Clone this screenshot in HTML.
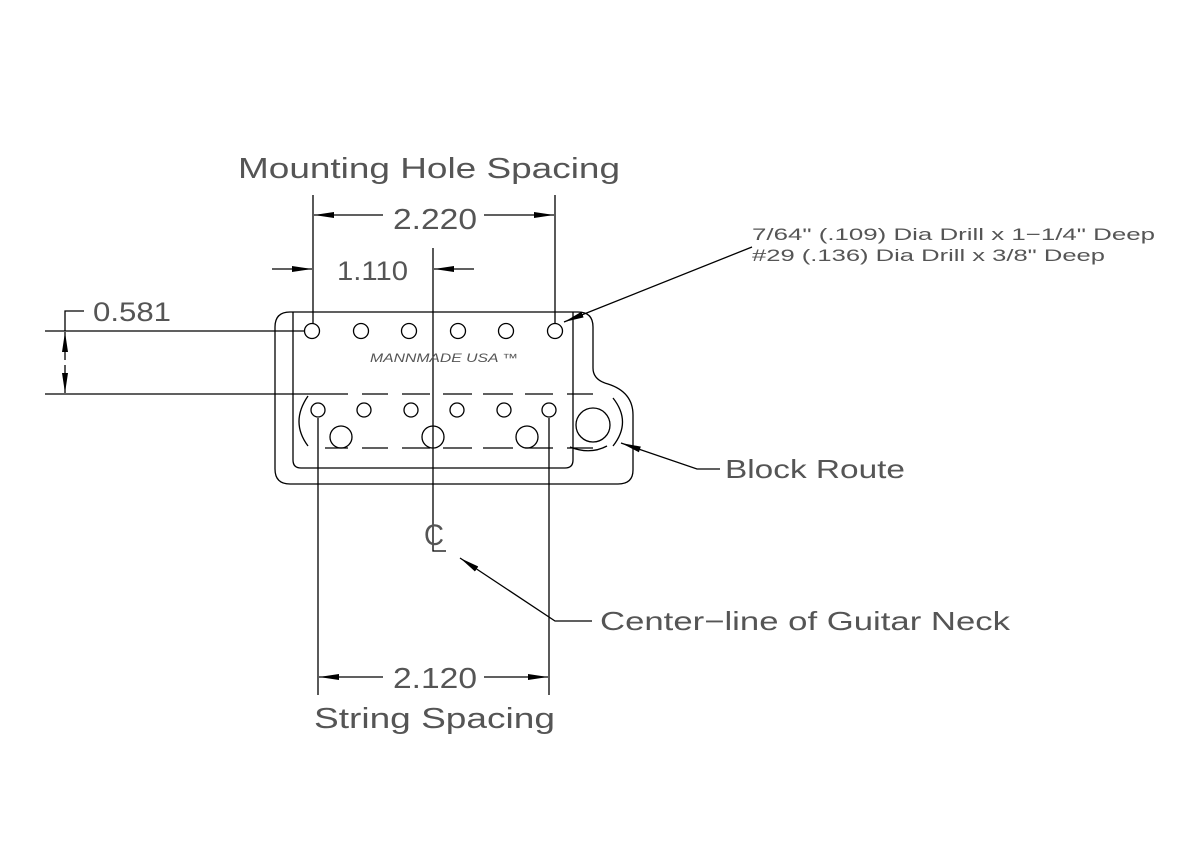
<!DOCTYPE html>
<html><head><style>body{margin:0;background:#fff}svg{display:block}text{font-family:"Liberation Sans",sans-serif;fill:#555}</style></head>
<body>
<svg width="1182" height="856" viewBox="0 0 1182 856" xmlns="http://www.w3.org/2000/svg">
<defs>
<marker id="a" viewBox="0 0 20 8" refX="20" refY="4" markerWidth="20" markerHeight="8" markerUnits="userSpaceOnUse" orient="auto"><path d="M0,1 L20,4 L0,7 Z" fill="#000"/></marker>
</defs>
<g stroke="#000" stroke-width="1.3" fill="none">
<path d="M290,312 H578 Q593,312 593,327 V368 Q593,380 608,384 Q633,392 633,415 V470 Q633,484 618,484 H290 Q275,484 275,469 V327 Q275,312 290,312 Z"/>
<path d="M293,312 V460 Q293,468 301,468 H565 Q573,468 573,460 V312"/>
<g>
<circle cx="312" cy="331" r="7.5"/><circle cx="361" cy="331" r="7.5"/><circle cx="409" cy="331" r="7.5"/><circle cx="458" cy="331" r="7.5"/><circle cx="506" cy="331" r="7.5"/><circle cx="555" cy="331" r="7.5"/>
<circle cx="318" cy="410" r="7"/><circle cx="364" cy="410" r="7"/><circle cx="411" cy="410" r="7"/><circle cx="457" cy="410" r="7"/><circle cx="504" cy="410" r="7"/><circle cx="549" cy="410" r="7"/>
<circle cx="341" cy="437" r="11"/><circle cx="433" cy="437" r="11"/><circle cx="527" cy="437" r="11"/>
<circle cx="593" cy="425" r="17"/>
</g>
<path d="M45,394 H348 M362,394 H388 M402,394 H430 M443,394 H472 M483,394 H513 M525,394 H553 M567,394 H593"/>
<path d="M325,448 H348 M362,448 H388 M402,448 H430 M443,448 H472 M483,448 H513 M525,448 H553 M567,448 H593"/>
<path d="M308,396 Q290,422 308,446"/>
<path d="M613,398 Q632,422 613,446" />
<path d="M570,447 Q590,455 607,446"/>
<path d="M313,195 V324 M555,195 V324"/>
<path d="M383,215 H314" marker-end="url(#a)"/>
<path d="M484,215 H554" marker-end="url(#a)"/>
<path d="M272,269 H312" marker-end="url(#a)"/>
<path d="M474,269 H434" marker-end="url(#a)"/>
<path d="M433,248 V551 H446"/>
<path d="M45,331 H304"/>
<path d="M84,311 H65 V331"/>
<path d="M65,360 V332" marker-end="url(#a)"/>
<path d="M65,365 V393" marker-end="url(#a)"/>
<path d="M318,418 V695 M549,418 V695"/>
<path d="M383,677 H319" marker-end="url(#a)"/>
<path d="M484,677 H548" marker-end="url(#a)"/>
<path d="M752,247 L564,322" marker-end="url(#a)"/>
<path d="M720,469 H697 L621,443" marker-end="url(#a)"/>
<path d="M592,621 H555 L460,558" marker-end="url(#a)"/>
</g>
<text x="238" y="178" font-size="29" textLength="382" lengthAdjust="spacingAndGlyphs">Mounting Hole Spacing</text>
<text x="393" y="229" font-size="29" textLength="84" lengthAdjust="spacingAndGlyphs">2.220</text>
<text x="337" y="280" font-size="27" textLength="71" lengthAdjust="spacingAndGlyphs">1.110</text>
<text x="93" y="321" font-size="27" textLength="78" lengthAdjust="spacingAndGlyphs">0.581</text>
<text x="370" y="362" font-size="12" font-style="italic" textLength="148" lengthAdjust="spacingAndGlyphs">MANNMADE USA ™</text>
<text x="752" y="240" font-size="17" textLength="403" lengthAdjust="spacingAndGlyphs">7/64" (.109) Dia Drill x 1−1/4" Deep</text>
<text x="752" y="261" font-size="17" textLength="353" lengthAdjust="spacingAndGlyphs">#29 (.136) Dia Drill x 3/8" Deep</text>
<text x="725" y="478" font-size="26" textLength="180" lengthAdjust="spacingAndGlyphs">Block Route</text>
<text x="424" y="545" font-size="30" textLength="20" lengthAdjust="spacingAndGlyphs">C</text>
<text x="600" y="630" font-size="26" textLength="410" lengthAdjust="spacingAndGlyphs">Center−line of Guitar Neck</text>
<text x="393" y="688" font-size="29" textLength="84" lengthAdjust="spacingAndGlyphs">2.120</text>
<text x="314" y="728" font-size="29" textLength="241" lengthAdjust="spacingAndGlyphs">String Spacing</text>
</svg>
</body></html>
